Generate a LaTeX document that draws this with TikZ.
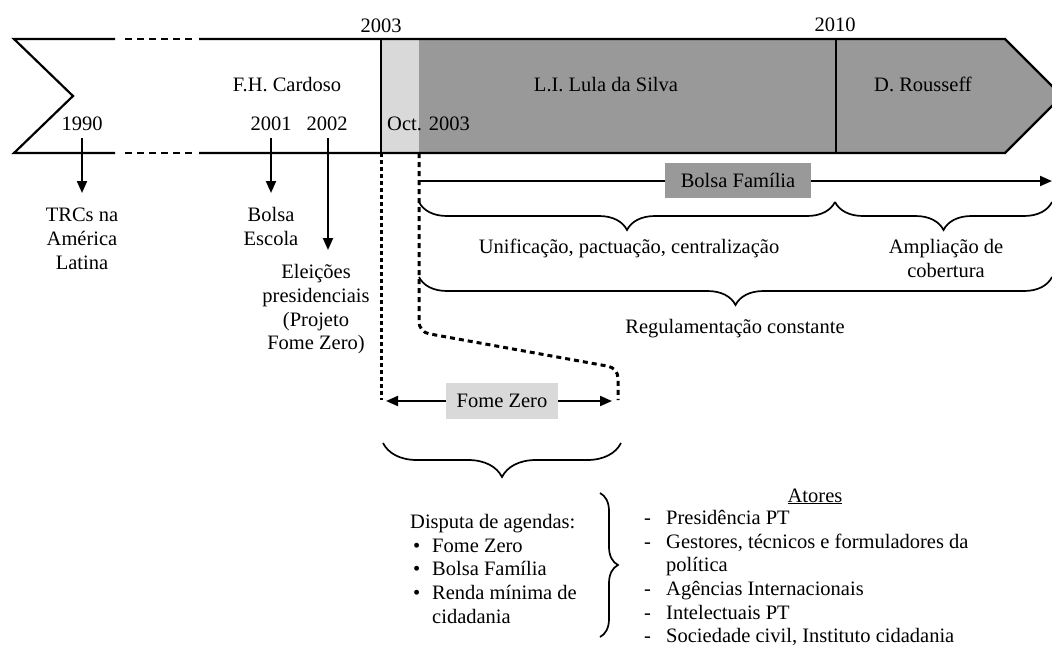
\documentclass[tikz,border=0pt]{standalone}
\usepackage{fontspec}
\setmainfont{Liberation Serif}
\usetikzlibrary{arrows.meta,decorations.pathreplacing}
\definecolor{darkgr}{HTML}{999999}
\definecolor{lightgr}{HTML}{D9D9D9}
\begin{document}
\begin{tikzpicture}[x=1pt,y=-1pt,
  txt/.style={font=\fontsize{20.5}{23.7}\selectfont, inner sep=0pt},
  ml/.style={txt, align=center, anchor=north},
  mll/.style={txt, align=left, anchor=north west},
  outl/.style={line width=2.2pt, line join=miter},
  dashseg/.style={line width=2.2pt, dash pattern=on 7pt off 5pt},
  arr/.style={line width=2pt, -{Triangle[length=12pt,width=10pt]}},
  dotl/.style={line width=3pt, dash pattern=on 3.5pt off 3.5pt},
  dshl/.style={line width=3pt, dash pattern=on 5pt off 4pt},
  brc/.style={line width=1.7pt, decorate},
]
\useasboundingbox (0,0) rectangle (1052,646);
\clip (0,0) rectangle (1052,646);
\fill[white] (0,0) rectangle (1052,646);

% banner fills
\fill[lightgr] (381,39) rectangle (419,153);
\fill[darkgr] (419,39) -- (1005,39) -- (1062,96) -- (1005,153) -- (419,153) -- cycle;

% banner outline
\draw[outl] (115,39) -- (14,39) -- (73,96) -- (14,153) -- (115,153);
\draw[dashseg] (125,39) -- (195,39);
\draw[dashseg] (125,153) -- (195,153);
\draw[outl] (199,39) -- (1005,39) -- (1062,96) -- (1005,153) -- (199,153);
\draw[line width=2pt] (381,39) -- (381,153);
\draw[line width=2pt] (836,39) -- (836,153);

% banner texts
\node[txt, anchor=base] (y2003) at (381,32) {2003};
\node[txt, anchor=base] (y2010) at (835,31) {2010};
\node[txt, anchor=base] (fhc) at (287,91) {F.H. Cardoso};
\node[txt, anchor=base] (lula) at (606,91) {L.I. Lula da Silva};
\node[txt, anchor=base] (dilma) at (923,91) {D. Rousseff};
\node[txt, anchor=base] (y1990) at (82,130) {1990};
\node[txt, anchor=base] (y2001) at (271,130) {2001};
\node[txt, anchor=base] (y2002) at (327,130) {2002};
\node[txt, anchor=base west] (oct) at (387,130) {Oct. 2003};

% year arrows
\coordinate (t1990) at (82,138);  \coordinate (h1990) at (82,193);
\coordinate (t2001) at (271,138); \coordinate (h2001) at (271,193);
\coordinate (t2002) at (328,138); \coordinate (h2002) at (328,250);
\draw[arr] (t1990) -- (h1990);
\draw[arr] (t2001) -- (h2001);
\draw[arr] (t2002) -- (h2002);

\node[ml] (trc) at (82,205) {\strut TRCs na\\América\\Latina};
\node[ml] (besc) at (271,205) {\strut Bolsa\\Escola};
\node[ml] (elei) at (316,262) {\strut Eleições\\presidenciais\\(Projeto\\Fome Zero)};

% dotted guide lines
\coordinate (d1top) at (381,153); \coordinate (d1bot) at (381,400);
\coordinate (d2top) at (419,153); \coordinate (d2bend) at (419,332);
\coordinate (d2mid) at (618,368); \coordinate (d2bot) at (618,400);
\draw[dotl] (d1top) -- (d1bot);
\draw[dshl, rounded corners=10pt] (d2top) -- (d2bend) -- (d2mid) -- (d2bot);

% Bolsa Familia arrow
\coordinate (bfs) at (419,181); \coordinate (bfe) at (1052,181);
\draw[arr] (bfs) -- (bfe);
\node[txt, fill=darkgr, minimum width=146pt, minimum height=35pt] (bf) at (738,180) {Bolsa Família};

% braces
\draw[brc, decoration={brace, amplitude=28pt, mirror}] (419,202) -- (835,202);
\draw[brc, decoration={brace, amplitude=28pt, mirror}] (835,202) -- (1052,202);
\draw[brc, decoration={brace, amplitude=28pt, mirror}] (419,277) -- (1052,277);
\node[txt, anchor=base] (unif) at (629,253) {Unificação, pactuação, centralização};
\node[ml] (ampl) at (946,237) {\strut Ampliação de\\cobertura};
\node[txt, anchor=base] (reg) at (735,333) {Regulamentação constante};

% Fome Zero
\coordinate (fzl) at (386,401); \coordinate (fzr) at (612,401);
\node[txt, fill=lightgr, minimum width=112pt, minimum height=36pt] (fz) at (502,401) {Fome Zero};
\draw[arr] (fz.west) -- (fzl);
\draw[arr] (fz.east) -- (fzr);
\draw[brc, decoration={brace, amplitude=34pt, mirror}] (383,443) -- (621,443);

% bottom lists
\node[mll] (disp) at (410,511.5) {\strut Disputa de agendas:\\
  \makebox[22pt][l]{\hspace{3pt}•}Fome Zero\\
  \makebox[22pt][l]{\hspace{3pt}•}Bolsa Família\\
  \makebox[22pt][l]{\hspace{3pt}•}Renda mínima de\\
  \hspace*{22pt}cidadania};
\draw[brc, decoration={brace, amplitude=18pt}] (600,493) -- (600,637);
\node[txt, anchor=base] (atores) at (815,502) {\underline{Atores}};
\node[mll] (act) at (643,507.5) {\strut \makebox[23pt][l]{\hspace{1pt}-}Presidência PT\\
  \makebox[23pt][l]{\hspace{1pt}-}Gestores, técnicos e formuladores da\\
  \hspace*{23pt}política\\
  \makebox[23pt][l]{\hspace{1pt}-}Agências Internacionais\\
  \makebox[23pt][l]{\hspace{1pt}-}Intelectuais PT\\
  \makebox[23pt][l]{\hspace{1pt}-}Sociedade civil, Instituto cidadania};
\end{tikzpicture}
\end{document}
